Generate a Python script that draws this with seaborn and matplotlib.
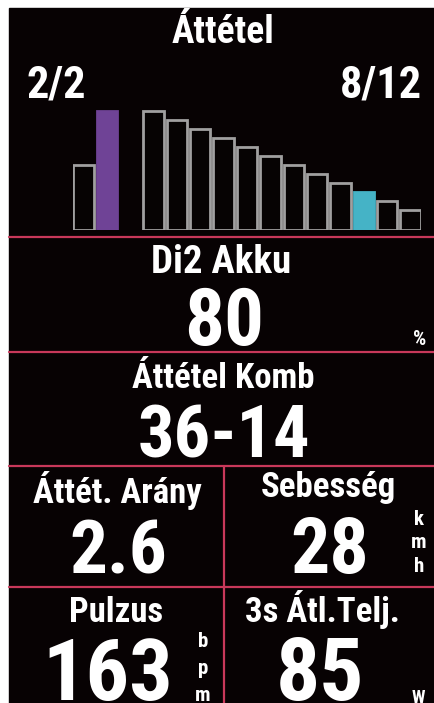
import matplotlib
matplotlib.use("Agg")
import matplotlib.pyplot as plt
from matplotlib import font_manager
import seaborn as sns
import pandas as pd

# Gear indicator data (relative bar heights)
front_labels = ["F1", "F2"]
front_sizes = [65, 119]
rear_labels = ["R%d" % i for i in range(1, 13)]
rear_sizes = [119, 110, 101, 92, 83, 74, 65, 56, 47, 38, 29, 20]
active_front = "F2"
active_rear = "R10"

front_gear_text = "2/2"
rear_gear_text = "8/12"

# Data field values
fields = {
    "battery": ("Di2 Akku", "80", "%"),
    "combo": ("Áttétel Komb", "36-14", ""),
    "ratio": ("Áttét. Arány", "2.6", ""),
    "speed": ("Sebesség", "28", "k\nm\nh"),
    "hr": ("Pulzus", "163", "b\np\nm"),
    "power": ("3s Átl.Telj.", "85", "W"),
}

BG = "#070203"
RED = "#c8385a"
GRAY = "#a0a0a0"
PURPLE = "#6f4396"
CYAN = "#45b3c6"

sns.set_theme(style="dark")

# pick a condensed font if one is around
names = {(f.name, f.stretch) for f in font_manager.fontManager.ttflist}
fam_names = {n for n, s in names}
stretch = "normal"
if "Roboto Condensed" in fam_names:
    family = ["Roboto Condensed", "DejaVu Sans"]
elif "Liberation Sans Narrow" in fam_names:
    family = ["Liberation Sans Narrow", "DejaVu Sans"]
elif ("DejaVu Sans", "condensed") in names or ("DejaVu Sans", "semi-condensed") in names:
    family = ["DejaVu Sans"]
    stretch = "condensed"
else:
    family = ["Roboto", "DejaVu Sans"]
plt.rcParams["font.family"] = family
plt.rcParams["font.weight"] = "bold"
plt.rcParams["font.stretch"] = stretch

W, H = 435, 703
fig = plt.figure(figsize=(W / 100, H / 100), dpi=100, facecolor="white")

# background axes in pixel coordinates
bg = fig.add_axes([0, 0, 1, 1])
bg.set_xlim(0, W)
bg.set_ylim(H, 0)
bg.axis("off")
bg.add_patch(plt.Rectangle((9, 8), W - 9, H - 8, color=BG, zorder=0))

# separators
for y in [237, 352, 466, 587]:
    bg.plot([9, W], [y, y], color=RED, lw=1.6, zorder=1)
bg.plot([224, 224], [466, H], color=RED, lw=1.6, zorder=1)


def txt(x, y, s, size, ha="center", **kw):
    bg.text(x, y, s, color="white", fontsize=size, ha=ha, va="baseline",
            fontweight="bold", fontstretch=stretch, zorder=3, **kw)


# top gear panel
txt(223, 43, "Áttétel", 27)
txt(27, 98, front_gear_text, 32, ha="left")
txt(422, 98, rear_gear_text, 32, ha="right")

# gear bars via seaborn
df = pd.DataFrame({
    "gear": front_labels + rear_labels,
    "size": front_sizes + rear_sizes,
})
order = front_labels + [""] + rear_labels
bar_bottom, bar_top = 230, 100
ax = fig.add_axes([73 / W, 1 - bar_bottom / H, (421 - 73) / W, (bar_bottom - bar_top) / H])
sns.barplot(data=df, x="gear", y="size", order=order, width=0.87, ax=ax,
            color=BG, edgecolor=GRAY, linewidth=2.0)
ax.set_xlim(-0.45, len(order) - 1 + 0.45)
ax.set_ylim(0, bar_bottom - bar_top)
ax.axis("off")
ax.patch.set_alpha(0)

present = [g for g in order if g in df["gear"].values]
patches = sorted(ax.patches, key=lambda p: p.get_x())
for g, p in zip(present, patches):
    if g == active_front:
        p.set_facecolor(PURPLE)
        p.set_edgecolor(PURPLE)
    elif g == active_rear:
        p.set_facecolor(CYAN)
        p.set_edgecolor(CYAN)

# data fields
lab, val, unit = fields["battery"]
txt(221, 273, lab, 28)
txt(224, 345, val, 57)
txt(420, 345, unit, 15)

lab, val, unit = fields["combo"]
txt(223, 388, lab, 25)
txt(224, 458, val, 52)

lab, val, unit = fields["ratio"]
txt(117, 503, lab, 25)
txt(118, 573, val, 54)

lab, val, unit = fields["speed"]
txt(328, 497, lab, 25)
txt(330, 573, val, 56)
for i, ch in enumerate(unit.split("\n")):
    txt(419, 525 + 23.5 * i, ch, 15)

lab, val, unit = fields["hr"]
txt(116, 622, lab, 25)
txt(108, 700, val, 62)
for i, ch in enumerate(unit.split("\n")):
    txt(203, 647 + 27 * i, ch, 15)

lab, val, unit = fields["power"]
txt(322, 622, lab, 25)
txt(320, 700, val, 63)
txt(418, 703, unit, 13)

fig.savefig("out.png", dpi=100, facecolor="white")
